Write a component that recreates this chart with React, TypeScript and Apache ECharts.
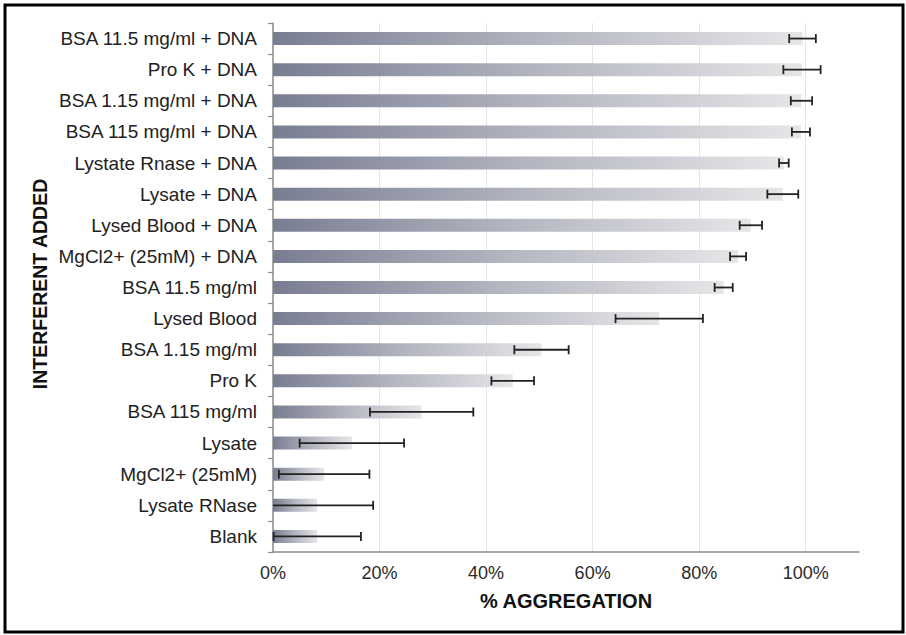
import React, { useEffect, useRef } from "react";
import * as echarts from "echarts";

const categories = [
  "BSA 11.5 mg/ml + DNA",
  "Pro K + DNA",
  "BSA 1.15 mg/ml + DNA",
  "BSA 115 mg/ml + DNA",
  "Lystate Rnase + DNA",
  "Lysate + DNA",
  "Lysed Blood + DNA",
  "MgCl2+ (25mM) + DNA",
  "BSA 11.5 mg/ml",
  "Lysed Blood",
  "BSA 1.15 mg/ml",
  "Pro K",
  "BSA 115 mg/ml",
  "Lysate",
  "MgCl2+ (25mM)",
  "Lysate RNase",
  "Blank",
];

const aggregation = [99.4, 99.3, 99.2, 99.1, 95.9, 95.7, 89.7, 87.3, 84.6, 72.5, 50.4, 45.0, 27.9, 14.8, 9.6, 8.3, 8.3];
const errors = [2.5, 3.5, 2.0, 1.7, 0.9, 2.9, 2.1, 1.5, 1.7, 8.2, 5.1, 4.0, 9.7, 9.8, 8.5, 10.5, 8.2];

const xTicks = [0, 20, 40, 60, 80, 100];

const FONT = "'Liberation Sans', Arial, Helvetica, sans-serif";

export default function App() {
  const ref = useRef<HTMLDivElement>(null);

  useEffect(() => {
    if (!ref.current) return;
    const chart = echarts.init(ref.current, undefined, { renderer: "svg" });

    const errData = aggregation.map((v, i) => [v - errors[i], v + errors[i], i]);

    const barGradient = new echarts.graphic.LinearGradient(0, 0, 1, 0, [
      { offset: 0, color: "#797d91" },
      { offset: 0.5, color: "#b3b5c0" },
      { offset: 1, color: "#e6e6e8" },
    ]);

    chart.setOption({
      animation: false,
      backgroundColor: "#ffffff",
      grid: { left: 273, right: 47, top: 23, bottom: 83, containLabel: false },
      xAxis: {
        type: "value",
        min: 0,
        max: 110,
        interval: 20,
        axisLine: { show: true, lineStyle: { color: "#8c8c8c", width: 1.5 } },
        axisTick: { show: false },
        axisLabel: {
          color: "#2a2a2a",
          fontSize: 18,
          fontFamily: FONT,
          margin: 12,
          showMaxLabel: false,
          formatter: (v: number) => (xTicks.includes(v) ? v + "%" : ""),
        },
        splitLine: { show: true, showMaxLine: false, lineStyle: { color: "#e2e5ee", width: 1 } },
      },
      yAxis: {
        type: "category",
        inverse: true,
        data: categories,
        axisLine: { show: true, lineStyle: { color: "#8c8c8c", width: 1.5 } },
        axisTick: { show: true, length: 5, lineStyle: { color: "#8c8c8c", width: 1.2 } },
        axisLabel: { color: "#222222", fontSize: 19, fontFamily: FONT, margin: 16 },
        splitLine: { show: false },
      },
      graphic: [
        {
          type: "rect",
          shape: { x: 5, y: 5, width: 898, height: 627 },
          style: { fill: "none", stroke: "#000000", lineWidth: 3 },
          z: 100,
        },
        {
          type: "text",
          x: 566,
          y: 601,
          style: {
            text: "% AGGREGATION",
            font: `bold 20px ${FONT}`,
            fill: "#111111",
            textAlign: "center",
            textVerticalAlign: "middle",
          },
        },
        {
          type: "text",
          x: 39.5,
          y: 284,
          rotation: Math.PI / 2,
          style: {
            text: "INTERFERENT ADDED",
            font: `bold 19.5px ${FONT}`,
            fill: "#111111",
            textAlign: "center",
            textVerticalAlign: "middle",
          },
        },
      ],
      series: [
        {
          type: "bar",
          data: aggregation,
          barWidth: 13,
          itemStyle: { color: barGradient },
          z: 2,
        },
        {
          type: "custom",
          data: errData,
          encode: { x: [0, 1], y: 2 },
          z: 5,
          renderItem: (params: any, api: any) => {
            const lo = api.value(0);
            const hi = api.value(1);
            const idx = api.value(2);
            const clippedLo = Math.max(0, lo);
            const pLo = api.coord([clippedLo, idx]);
            const pHi = api.coord([hi, idx]);
            const h = 4.5;
            const style = { stroke: "#222222", lineWidth: 1.8, fill: "none" };
            const children: any[] = [
              { type: "line", shape: { x1: pLo[0], y1: pLo[1], x2: pHi[0], y2: pHi[1] }, style },
              { type: "line", shape: { x1: pHi[0], y1: pHi[1] - h, x2: pHi[0], y2: pHi[1] + h }, style },
            ];
            if (lo >= 0) {
              children.push({ type: "line", shape: { x1: pLo[0], y1: pLo[1] - h, x2: pLo[0], y2: pLo[1] + h }, style });
            }
            return { type: "group", children };
          },
        },
      ],
    });

    return () => chart.dispose();
  }, []);

  return (
    <div
      ref={ref}
      style={{ position: "fixed", left: 0, top: 0, width: 906, height: 635, background: "#fff" }}
    />
  );
}
